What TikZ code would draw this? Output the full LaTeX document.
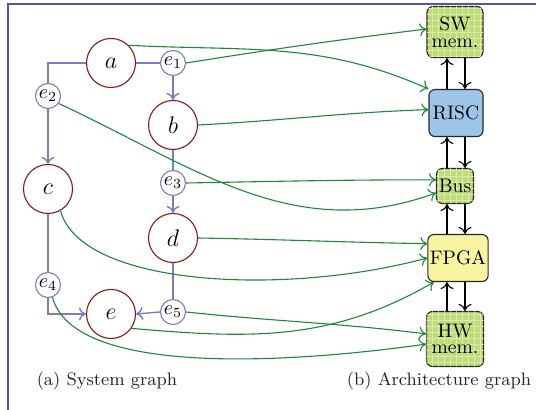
\documentclass[tikz,border=0pt]{standalone}
\usepackage{tikz}
\usetikzlibrary{arrows.meta, patterns}
\usepackage{amsmath,amssymb}
\definecolor{framecol}{RGB}{85, 85, 160}
\definecolor{depblue}{RGB}{125, 125, 185}
\definecolor{taskred}{RGB}{140, 25, 25}
\definecolor{bindgreen}{RGB}{30, 135, 60}
\definecolor{memgreen}{RGB}{190, 220, 120}
\definecolor{riscblue}{RGB}{157, 197, 232}
\definecolor{fpgayellow}{RGB}{248, 244, 160}

\begin{document}
\begin{tikzpicture}[x=0.5pt, y=0.5pt,
  tip/.style={-{Computer Modern Rightarrow[length=3.5pt,width=6.5pt]}},
  tasknode/.style={circle, draw=taskred, line width=0.55pt, fill=white,
    minimum size=24.5pt, inner sep=0pt, font=\large},
  edgenode/.style={circle, draw=depblue, line width=0.55pt, fill=white,
    minimum size=12.5pt, inner sep=0.3pt},
  depline/.style={depblue, line width=0.7pt},
  resbox/.style={draw=black!85, line width=0.55pt, rounded corners=3pt,
    align=center, inner sep=1pt, font=\fontsize{9.8}{8.4}\selectfont},
  membox/.style={resbox, fill=memgreen,
    postaction={pattern=grid, pattern color=memgreen!60!white}},
  bindarrow/.style={tip, bindgreen, line width=0.55pt},
  busarrow/.style={tip, black, line width=0.55pt}]

  \useasboundingbox (0,0) rectangle (536,-410);

  % frame
  \draw[framecol, line width=1pt] (8,-410) -- (8,-4) -- (536,-4);

  % system graph
  \node[tasknode] (a) at (111,-63) {$a$};
  \node[edgenode] (e1) at (173,-63) {$e_1$};
  \node[edgenode] (e2) at (48,-96) {$e_2$};
  \node[tasknode] (b) at (173,-125) {$b$};
  \node[tasknode] (c) at (48,-189) {$c$};
  \node[edgenode] (e3) at (173,-183) {$e_3$};
  \node[tasknode] (d) at (173,-238) {$d$};
  \node[edgenode] (e4) at (48,-285) {$e_4$};
  \node[tasknode] (e) at (111,-314) {$e$};
  \node[edgenode] (e5) at (173,-312) {$e_5$};

  \draw[depline] (a.west) -| (e2.north);
  \draw[depline] (a.east) -- (e1.west);
  \draw[depline, tip] (e1.south) -- (b.north);
  \draw[depline, tip] (e2.south) -- (c.north);
  \draw[depline] (b.south) -- (e3.north);
  \draw[depline, tip] (e3.south) -- (d.north);
  \draw[depline] (c.south) -- (e4.north);
  \draw[depline, tip] (e4.south) |- (e.west);
  \draw[depline] (d.south) -- (e5.north);
  \draw[depline, tip] (e5.west) -- (e.east);

  % architecture graph
  \node[membox, minimum width=28pt, minimum height=25.5pt] (sw) at (455,-32) {SW\\mem.};
  \node[resbox, fill=riscblue, minimum width=27pt, minimum height=23.5pt] (risc) at (456,-113) {RISC};
  \node[membox, minimum width=18.5pt, minimum height=17.5pt] (bus) at (455,-186) {Bus};
  \node[resbox, fill=fpgayellow, minimum width=29.5pt, minimum height=23.5pt] (fpga) at (458,-258) {FPGA};
  \node[membox, minimum width=28.5pt, minimum height=27.5pt] (hw) at (455,-339) {HW\\mem.};

  \coordinate (upx) at (447,0);
  \coordinate (downx) at (465,0);
  \foreach \lo/\hi in {risc/sw, bus/risc, fpga/bus, hw/fpga} {
    \draw[busarrow] (\lo.north -| upx) -- (\hi.south -| upx);
    \draw[busarrow] (\hi.south -| downx) -- (\lo.north -| downx);
  }

  % bindings
  \draw[bindarrow] (a.45) to[out=-3, in=156] (risc.north west);
  \draw[bindarrow] (e1.east) to[out=9, in=187] (sw.174);
  \draw[bindarrow] (b.east) to[out=3, in=182] (risc.173);
  \draw[bindarrow] (e2.-35) to[out=-25, in=200] (bus.200);
  \draw[bindarrow] (e3.east) to[out=1, in=180] (bus.162);
  \draw[bindarrow] (d.east) to[out=-1, in=179] (fpga.155);
  \draw[bindarrow] (c.-60) .. controls +(-75:78) and +(195:150) .. (fpga.west);
  \draw[bindarrow] (e.-35) to[out=-5, in=210] (fpga.-135);
  \draw[bindarrow] (e5.east) to[out=-6, in=173] (hw.170);
  \draw[bindarrow] (e4.-70) .. controls +(-75:80) and +(188:150) .. (hw.190);

  % captions
  \node[font=\small, text=black!85] (capa) at (107,-381) {(a) System graph};
  \node[font=\small, text=black!85] (capb) at (439,-381) {(b) Architecture graph};

\end{tikzpicture}
\end{document}
